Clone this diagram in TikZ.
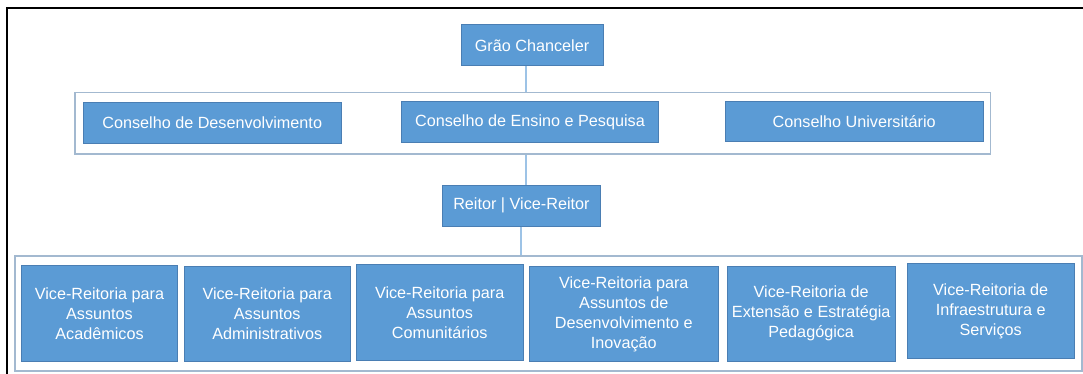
\documentclass[tikz,border=0pt]{standalone}
\usepackage{fontspec}
\setmainfont{Liberation Sans}
\definecolor{caixa}{HTML}{5B9BD5}
\definecolor{borda}{HTML}{4A7EB3}
\definecolor{moldura}{HTML}{A3B9D0}
\definecolor{ligacao}{HTML}{9DC3E6}
\tikzset{
  cargo/.style={draw=borda, fill=caixa, text=white, line width=1pt,
    inner sep=2pt, align=center, font=\fontsize{16.2}{20}\selectfont},
  grupo/.style={draw=moldura, line width=1.6pt, fill=white},
  ligacao/.style={draw=ligacao, line width=2pt}
}

\begin{document}
\begin{tikzpicture}[x=1pt, y=-1pt]
    \useasboundingbox (0,0) rectangle (1083,374);
    \draw[line width=2pt] (7.3,376) |- (1085,8.3); % frame of the figure
    \coordinate (eixo) at (526,0);

    \node[cargo, minimum width=142pt, minimum height=41pt] (grao) at (532,45.5) {Grão Chanceler};

    % conselhos
    \node[grupo, minimum width=915.7pt, minimum height=61.7pt] (conselhos) at (532.8,123.2) {};
    \node[cargo, minimum width=257.7pt, minimum height=41pt] (desenv) at (212.2,122.8) {Conselho de Desenvolvimento};
    \node[cargo, minimum width=256.6pt, minimum height=41pt] (ensino) at (530,122.5) {Conselho de Ensino e Pesquisa};
    \node[cargo, minimum width=258.3pt, minimum height=40.7pt] (univ) at (854.2,121.4) {Conselho Universitário};

    \node[cargo, minimum width=157.3pt, minimum height=41pt] (reitor) at (521.4,205.5) {Reitor | Vice-Reitor};

    % vice-reitorias
    \node[grupo, minimum width=1067pt, minimum height=115pt] (vices) at (548.5,313.5) {};
    \foreach \cx/\cy/\w/\texto [count=\i] in {
        99.5/313.5/155.6/{Vice-Reitoria para\\Assuntos\\Acadêmicos},
        267.2/313.8/165.7/{Vice-Reitoria para\\Assuntos\\Administrativos},
        439.7/312.5/167.3/{Vice-Reitoria para\\Assuntos\\Comunitários},
        623.8/314.2/189/{Vice-Reitoria para\\Assuntos de\\Desenvolvimento e\\Inovação},
        811.2/313.8/167.7/{Vice-Reitoria de\\Extensão e Estratégia\\Pedagógica},
        990.7/311.2/166.7/{Vice-Reitoria de\\Infraestrutura e\\Serviços}}
    {
      \node[cargo, minimum width=\w pt, minimum height=95.5pt] (vr\i) at (\cx,\cy) {\texto};
    }

    \draw[ligacao] (grao.south -| eixo) -- (conselhos.north -| eixo);
    \draw[ligacao] (conselhos.south -| eixo) -- (reitor.north -| eixo);
    \draw[ligacao] (reitor.south) -- (reitor.south |- vices.north);
\end{tikzpicture}
\end{document}
